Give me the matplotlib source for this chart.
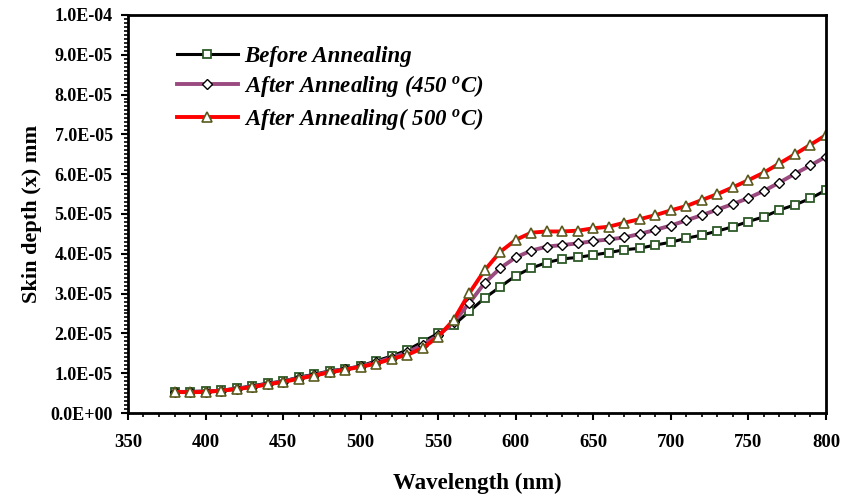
import matplotlib
matplotlib.use('Agg')
import matplotlib.pyplot as plt
from matplotlib.ticker import MultipleLocator, FormatStrFormatter

plt.rcParams['font.family'] = 'Liberation Serif'
plt.rcParams['font.weight'] = 'bold'
plt.rcParams['mathtext.fontset'] = 'custom'
plt.rcParams['mathtext.rm'] = 'Liberation Serif:bold'
plt.rcParams['mathtext.it'] = 'Liberation Serif:italic:bold'

# wavelength (nm)
wavelength = list(range(380, 801, 10))

# skin depth, in units of 1e-5 mm
before = [0.54, 0.54, 0.55, 0.57, 0.62, 0.68, 0.75, 0.80, 0.90, 0.97,
          1.06, 1.11, 1.18, 1.31, 1.43, 1.58, 1.79, 2.00, 2.21, 2.55,
          2.89, 3.17, 3.45, 3.64, 3.78, 3.87, 3.91, 3.97, 4.03, 4.10,
          4.14, 4.22, 4.29, 4.39, 4.47, 4.57, 4.68, 4.81, 4.93, 5.10,
          5.23, 5.39, 5.60]
after450 = [0.53, 0.53, 0.54, 0.56, 0.61, 0.66, 0.73, 0.79, 0.88, 0.95,
            1.04, 1.10, 1.17, 1.27, 1.39, 1.52, 1.71, 1.95, 2.28, 2.76,
            3.27, 3.64, 3.91, 4.08, 4.18, 4.22, 4.26, 4.32, 4.36, 4.41,
            4.50, 4.60, 4.71, 4.84, 4.97, 5.11, 5.25, 5.40, 5.58, 5.79,
            6.01, 6.22, 6.44]
after500 = [0.53, 0.52, 0.53, 0.56, 0.60, 0.65, 0.72, 0.78, 0.86, 0.94,
            1.02, 1.09, 1.16, 1.24, 1.36, 1.46, 1.63, 1.92, 2.34, 3.01,
            3.59, 4.05, 4.35, 4.53, 4.56, 4.56, 4.58, 4.64, 4.68, 4.78,
            4.87, 4.97, 5.09, 5.20, 5.35, 5.50, 5.67, 5.85, 6.04, 6.27,
            6.50, 6.74, 6.98]

labels = ['Before Annealing',
          'After Annealing (450 $^{o}$C)',
          'After Annealing( 500 $^{o}$C)']

scale = 1e-5
fig = plt.figure(figsize=(8.42, 4.97), dpi=100)
ax = fig.add_axes([0.152, 0.169, 0.829, 0.801])

ax.plot(wavelength, [v * scale for v in before], color='black', lw=2.2,
        marker='s', ms=6, mfc='white', mec='#2d5a27', mew=1.3, label=labels[0])
ax.plot(wavelength, [v * scale for v in after450], color='#9b4a80', lw=2.8,
        marker='D', ms=5, mfc='white', mec='black', mew=1.0, label=labels[1])
ax.plot(wavelength, [v * scale for v in after500], color='red', lw=2.8,
        marker='^', ms=7, mfc='white', mec='#5a5a1e', mew=1.2, label=labels[2])

ax.set_xlim(350, 800)
ax.set_ylim(0, 1e-4)
ax.xaxis.set_major_locator(MultipleLocator(50))
ax.xaxis.set_minor_locator(MultipleLocator(10))
ax.yaxis.set_major_locator(MultipleLocator(1e-5))
ax.yaxis.set_minor_locator(MultipleLocator(1e-6))
ax.yaxis.set_major_formatter(FormatStrFormatter('%.1E'))

ax.tick_params(axis='both', which='major', direction='out', length=5, width=1.5)
ax.tick_params(axis='both', which='minor', direction='out', length=3, width=1.2)
ax.tick_params(axis='y', labelsize=13, pad=6)
ax.tick_params(axis='x', labelsize=13.5, pad=10)
for s in ax.spines.values():
    s.set_linewidth(2)

ax.set_xlabel('Wavelength (nm)', fontsize=16.5, fontweight='bold', labelpad=16)
ax.set_ylabel('Skin depth (x) mm', fontsize=16, fontweight='bold', labelpad=6)

leg = ax.legend(loc='upper left', bbox_to_anchor=(0.04, 0.975), frameon=False,
                numpoints=1, handlelength=2.7, handletextpad=0.25,
                labelspacing=0.3, prop={'family': 'Liberation Serif',
                                        'style': 'italic', 'weight': 'bold',
                                        'size': 16.5})

fig.savefig('out.png', dpi=100)
